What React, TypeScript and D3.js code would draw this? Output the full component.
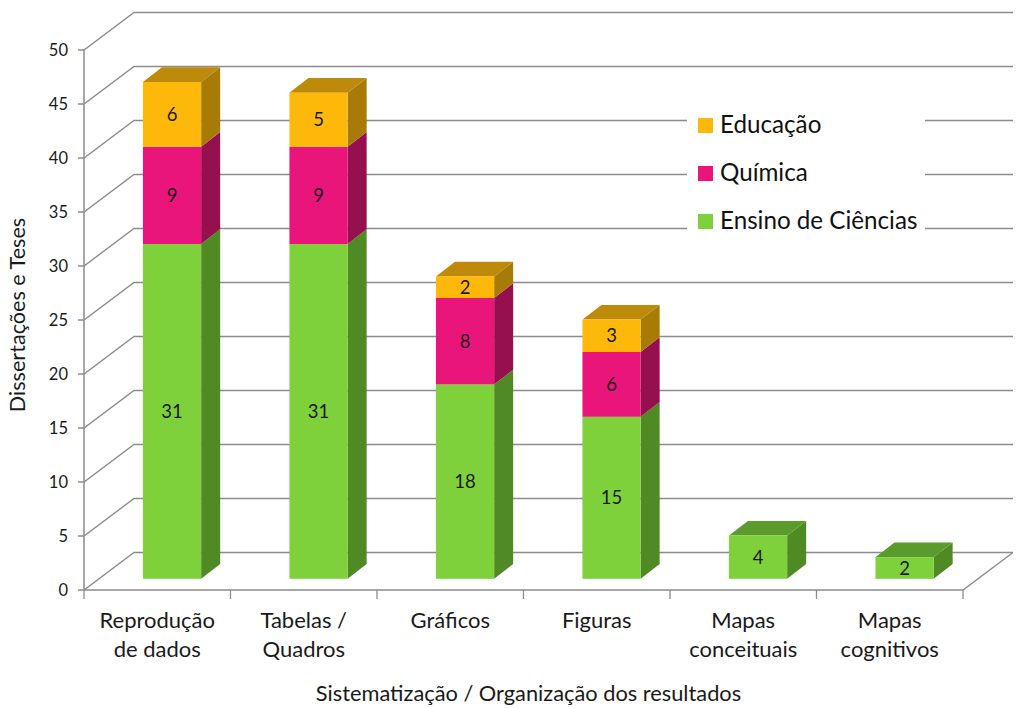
import React from "react";
import * as d3 from "d3";

const categories = [["Reprodução", "de dados"], ["Tabelas /", "Quadros"], ["Gráficos"], ["Figuras"], ["Mapas", "conceituais"], ["Mapas", "cognitivos"]];
const ensino = [31, 31, 18, 15, 4, 2];
const quimica = [9, 9, 8, 6, 0, 0];
const educacao = [6, 5, 2, 3, 0, 0];
const seriesNames = ["Ensino de Ciências", "Química", "Educação"];
const yTicks = [0, 5, 10, 15, 20, 25, 30, 35, 40, 45, 50];

const FONT = "Lato, Carlito, sans-serif";
const TEXT = "#1a1a1a";
const GRID = "#8c8c8c";
const colors = [
  { front: "#7FD13B", side: "#4F8A25", top: "#5B9B2C" },
  { front: "#EA157A", side: "#960F4E", top: "#AD1059" },
  { front: "#FEB80A", side: "#A87B07", top: "#BD8A0A" },
];

const y = d3.scaleLinear().domain([0, 50]).range([590, 50]);
const x = d3.scaleBand<number>().domain(d3.range(6)).range([84, 963]);
const DX = 50, DY = 37.5; // wall depth
const BDX = 19, BDY = 14.7; // bar depth
const BW = 58.2;
const BAR_SHIFT = -11.2; // front plane of bars up from the axis plane
const FX = 14.8; // bar centre to the right of the band centre

export default function App() {
  const stack = d3.stack<number>().keys(["0", "1", "2"]).value((i, k) => [ensino, quimica, educacao][+k][i])(d3.range(6));
  return (
    <svg width={1024} height={708} style={{ position: "absolute", left: 0, top: 0, background: "#fff" }} fontFamily={FONT}>
      {yTicks.map((t) => (
        <g key={t} stroke={GRID} strokeWidth={1.4} fill="none">
          <path d={`M${84 - 6},${y(t)}H84L${84 + DX},${y(t) - DY}H${963 + DX}`} />
        </g>
      ))}
      <path d={`M84,${y(50)}V${y(0)}H963L${963 + DX},${y(0) - DY}`} stroke={GRID} strokeWidth={1.5} fill="none" />
      {d3.range(7).map((i) => {
        const px = 84 + x.step() * i;
        return <line key={i} x1={px} x2={px} y1={590} y2={599} stroke={GRID} strokeWidth={1.3} />;
      })}
      <rect x={687} y={100} width={238} height={140} fill="#fff" />
      {stack.map((layer, s) =>
        layer.map((d, i) => {
          if (d[1] === d[0]) return null;
          const left = x(i)! + x.bandwidth() / 2 + FX - BW / 2;
          const right = left + BW;
          const y0 = y(d[0]) + BAR_SHIFT;
          const y1 = y(d[1]) + BAR_SHIFT;
          const isTop = d[1] === d3.sum([ensino, quimica, educacao], (a) => a[i]);
          return (
            <g key={`${s}-${i}`}>
              <path d={`M${right},${y0}L${right + BDX},${y0 - BDY}V${y1 - BDY}L${right},${y1}Z`} fill={colors[s].side} />
              {isTop && <path d={`M${left},${y1}L${left + BDX},${y1 - BDY}H${right + BDX}L${right},${y1}Z`} fill={colors[s].top} />}
              <rect x={left} y={y1} width={BW} height={y0 - y1} fill={colors[s].front} />
              <text x={left + BW / 2} y={(y0 + y1) / 2 + 6.5} textAnchor="middle" fontSize={18.5} fill={TEXT}>
                {d[1] - d[0]}
              </text>
            </g>
          );
        })
      )}
      {yTicks.map((t) => (
        <text key={t} x={68} y={y(t) + 6} textAnchor="end" fontSize={16.5} fill={TEXT}>{t}</text>
      ))}
      {categories.map((lines, i) =>
        lines.map((l, j) => (
          <text key={`${i}-${j}`} x={x(i)! + x.bandwidth() / 2} y={628 + j * 29} textAnchor="middle" fontSize={22} fill={TEXT}>{l}</text>
        ))
      )}
      <text x={528.5} y={701} textAnchor="middle" fontSize={21.8} fill={TEXT}>Sistematização / Organização dos resultados</text>
      <text transform="translate(24.5,315) rotate(-90)" textAnchor="middle" fontSize={21.6} fill={TEXT}>Dissertações e Teses</text>
      {[2, 1, 0].map((s, i) => (
        <g key={s}>
          <rect x={698} y={118 + i * 48} width={15} height={15} fill={colors[s].front} />
          <text x={720} y={133 + i * 48} fontSize={24.2} fill="#111">{seriesNames[s]}</text>
        </g>
      ))}
    </svg>
  );
}
